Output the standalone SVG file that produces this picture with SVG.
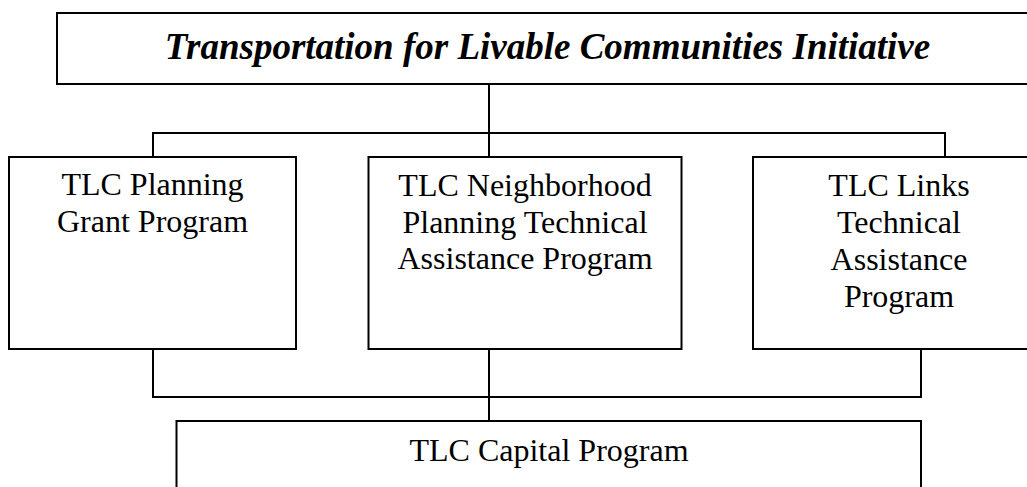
<svg xmlns="http://www.w3.org/2000/svg" width="1027" height="487" viewBox="0 0 1027 487">
<style>
.box{fill:#fff;stroke:#000;stroke-width:2}
.ln{fill:none;stroke:#000;stroke-width:2}
.t{font-family:"Liberation Serif","Times New Roman",serif;font-size:32px;fill:#000;text-anchor:middle}
.title{font-family:"Liberation Serif","Times New Roman",serif;font-size:37px;font-weight:bold;font-style:italic;fill:#000;text-anchor:middle}
</style>
<rect width="1027" height="487" fill="#fff"/>
<g id="connectors">
<path class="ln" d="M489 84V157M153 157V133H945V157M153 349V397H921V349M489 349V421"/>
</g>
<g id="n-title">
<rect class="box" x="57" y="13" width="981" height="71"/>
<text class="title" x="547.5" y="59">Transportation for Livable Communities Initiative</text>
</g>
<g id="n-planning">
<rect class="box" x="9" y="157" width="287" height="192"/>
<text class="t" x="152.5" y="195">TLC Planning</text>
<text class="t" x="152.5" y="232">Grant Program</text>
</g>
<g id="n-neighborhood">
<rect class="box" x="368.5" y="157" width="313" height="192"/>
<text class="t" x="525" y="195.5">TLC Neighborhood</text>
<text class="t" x="525" y="232.5">Planning Technical</text>
<text class="t" x="525" y="269">Assistance Program</text>
</g>
<g id="n-links">
<rect class="box" x="753" y="157" width="292" height="192"/>
<text class="t" x="899" y="196">TLC Links</text>
<text class="t" x="899" y="233">Technical</text>
<text class="t" x="899" y="270">Assistance</text>
<text class="t" x="899" y="307">Program</text>
</g>
<g id="n-capital">
<rect class="box" x="176.5" y="421" width="744.5" height="100"/>
<text class="t" x="549" y="461">TLC Capital Program</text>
</g>
</svg>
